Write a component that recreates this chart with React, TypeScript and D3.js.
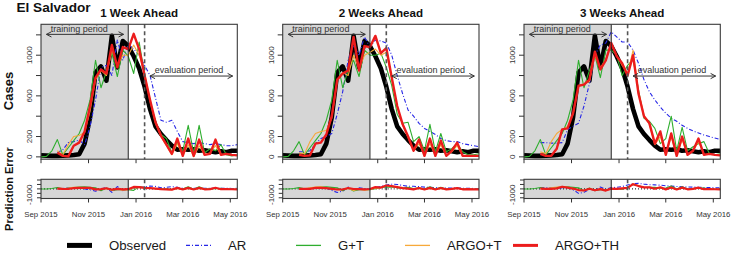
import React from "react";
import * as d3 from "d3";

// ---------- data ----------
const startDate = new Date(2015, 8, 1);
const endDate = new Date(2016, 4, 10);
const weeks: Date[] = d3.range(37).map((i) => d3.timeDay.offset(startDate, 7 * i));
const trainEnd = new Date(2015, 11, 22);
const evalStart = new Date(2016, 0, 12);

const panelTitles = ["1 Week Ahead", "2 Weeks Ahead", "3 Weeks Ahead"];

const observed = [15, 12, 10, 10, 12, 15, 18, 25, 130, 390, 830, 890, 750, 1190, 880, 1140, 1090, 990, 870, 690, 470, 300, 225, 165, 110, 70, 75, 70, 75, 60, 65, 55, 45, 55, 45, 60, 60];

const ar1 = [null, null, null, 40, 70, 140, 150, 165, 120, 300, 560, 880, 900, 800, 1150, 950, 1110, 1060, 1000, 900, 800, 580, 360, 340, 360, 250, 150, 140, 130, 140, 130, 120, 130, 120, 110, 110, 120];
const gt1 = [0, 5, 60, 170, 20, 90, 160, 230, 360, 560, 950, 680, 840, 1020, 790, 1050, 990, 820, 1130, 810, 540, 340, 220, 180, 40, 140, 60, 310, 40, 310, 40, 80, 60, 120, 20, 10, 20];
const argoT1 = [null, null, null, 60, 20, 120, 200, 210, 240, 450, 760, 850, 800, 1050, 900, 1000, 1000, 1100, 1000, 820, 560, 330, 200, 110, 20, 130, 10, 120, 0, 110, 20, 40, 110, 20, 30, 20, 15];
const argoTH1 = [null, null, null, 40, 10, 5, 110, 140, 250, 500, 780, 860, 820, 1100, 880, 1080, 1060, 1210, 1060, 800, 560, 340, 210, 120, 30, 180, 10, 180, 10, 170, 20, 30, 170, 20, 30, 20, 15];

const ar2 = [null, null, null, 50, 50, 60, 130, 180, 200, 230, 420, 640, 950, 1100, 1000, 1180, 1080, 1150, 1140, 1120, 1000, 800, 620, 460, 400, 330, 280, 250, 220, 180, 160, 150, 150, 130, 120, 110, 100];
const gt2 = [0, 5, 60, 150, 20, 90, 160, 230, 360, 560, 950, 680, 850, 950, 790, 1050, 1000, 1000, 1020, 880, 700, 420, 330, 340, 150, 200, 60, 320, 50, 230, 50, 80, 130, 50, 20, 20, 30];
const argoT2 = [null, null, null, 40, 30, 150, 230, 250, 260, 380, 750, 830, 800, 1000, 870, 1000, 1030, 1060, 1000, 1030, 760, 500, 310, 190, 60, 130, 10, 130, 10, 120, 10, 50, 110, 10, 10, 10, 10];
const argoTH2 = [null, null, null, 20, 10, 15, 130, 140, 220, 400, 760, 820, 850, 1180, 850, 1090, 1080, 1190, 1020, 1070, 780, 500, 320, 200, 60, 170, 10, 180, 10, 160, 10, 60, 140, 10, 10, 10, 10];

const ar3 = [null, null, null, 140, 140, 135, 135, 140, 270, 300, 330, 500, 720, 1000, 1100, 1120, 1230, 1180, 1130, 1130, 1050, 920, 760, 640, 560, 490, 430, 380, 350, 310, 280, 255, 235, 215, 200, 185, 170];
const gt3 = [0, 5, 60, 170, 20, 90, 160, 230, 360, 560, 950, 680, 850, 1000, 780, 1050, 1050, 1000, 800, 900, 960, 660, 380, 350, 280, 130, 180, 400, 60, 290, 60, 100, 130, 150, 30, 20, 30];
const argoT3 = [null, null, null, 50, 30, 150, 230, 270, 300, 420, 690, 720, 740, 1000, 880, 950, 1100, 1000, 900, 820, 1050, 640, 410, 320, 120, 200, 20, 200, 10, 170, 20, 60, 150, 20, 30, 20, 15];
const argoTH3 = [null, null, null, 30, 10, 10, 80, 270, 280, 430, 700, 710, 760, 1035, 860, 950, 1120, 990, 920, 800, 1000, 620, 400, 330, 130, 250, 20, 230, 10, 200, 20, 60, 180, 20, 30, 20, 15];

const arSeries = [ar1, ar2, ar3];
const gtSeries = [gt1, gt2, gt3];
const argoTSeries = [argoT1, argoT2, argoT3];
const argoTHSeries = [argoTH1, argoTH2, argoTH3];

const xTickDates = [new Date(2015, 8, 1), new Date(2015, 10, 1), new Date(2016, 0, 1), new Date(2016, 2, 1), new Date(2016, 4, 1)];
const xTickLabels = ["Sep 2015", "Nov 2015", "Jan 2016", "Mar 2016", "May 2016"];
const yTicks = [0, 200, 400, 600, 800, 1000, 1200];
const yTickLabels = [0, 200, 600, 1000];
const errTicks = [-1000, -500, 0, 500, 1000];
const errTickLabels = [-1000];

// annotation anchors (dates / values)
const trainArrow = { from: d3.timeDay.offset(startDate, 7), to: d3.timeDay.offset(startDate, 106), value: 1205 };
const trainTextAt = d3.timeDay.offset(startDate, 49);
const evalArrow = { from: d3.timeDay.offset(startDate, 140), to: d3.timeDay.offset(startDate, 246), value: 795 };
const evalTextAt = d3.timeDay.offset(startDate, 190);

const legendNames = ["Observed", "AR", "G+T", "ARGO+T", "ARGO+TH"];

// ---------- styles ----------
const FONT = "'Liberation Sans', Arial, Helvetica, sans-serif";
const COLORS = { obs: "#000000", ar: "#2727e6", gt: "#2fae2f", argoT: "#f7a93a", argoTH: "#ec1c1c" };
const PANEL_LEFT = [41, 282.7, 524];
const PANEL_W = 196.3;
const MAIN_TOP = 24.3;
const MAIN_BOTTOM = 159.2;
const ERR_TOP = 179.3;
const ERR_BOTTOM = 198.5;
const LEGEND_X = [67, 186, 296, 405, 513];
const LEGEND_Y = 245.4;

type Val = number | null;

function arrowPath(x0: number, x1: number, y: number) {
  const h = 5, w = 2.6;
  return `M${x0},${y}L${x1},${y}M${x0 + h},${y - w}L${x0},${y}L${x0 + h},${y + w}M${x1 - h},${y - w}L${x1},${y}L${x1 - h},${y + w}`;
}

function Panel({ idx }: { idx: number }) {
  const left = PANEL_LEFT[idx];
  const right = left + PANEL_W;
  const x = d3.scaleTime().domain([startDate, endDate]).range([left, right]);
  const y = d3.scaleLinear().domain([-23, 1304]).range([MAIN_BOTTOM, MAIN_TOP]);
  const ye = d3.scaleLinear().domain([-1080, 1080]).range([ERR_BOTTOM, ERR_TOP]);

  const mk = (sc: d3.ScaleLinear<number, number>) =>
    d3
      .line<Val>()
      .defined((d) => d != null)
      .x((_, i) => x(weeks[i]))
      .y((d) => sc(d as number));
  const lineMain = mk(y);
  const lineErr = mk(ye);
  const err = (s: Val[]) => s.map((v, i) => (v == null ? null : v - observed[i]));

  const models = [
    { s: arSeries[idx], c: COLORS.ar, w: 1.1, dash: "4,2,1,2", we: 1.1 },
    { s: gtSeries[idx], c: COLORS.gt, w: 1.1, dash: undefined, we: 1.1 },
    { s: argoTSeries[idx], c: COLORS.argoT, w: 1.1, dash: undefined, we: 1.1 },
    { s: argoTHSeries[idx], c: COLORS.argoTH, w: 2.4, dash: undefined, we: 2.2 },
  ];

  const xTrain = x(trainEnd);
  const xEval = x(evalStart);
  const cx = (left + right) / 2;

  return (
    <g>
      <text x={cx} y={17.3} textAnchor="middle" fontFamily={FONT} fontWeight="bold" fontSize={11.6} fill="#111">
        {panelTitles[idx]}
      </text>

      {/* main panel */}
      <rect x={left} y={MAIN_TOP} width={xTrain - left} height={MAIN_BOTTOM - MAIN_TOP} fill="#d6d6d6" />
      <path d={lineMain(observed as Val[]) || ""} fill="none" stroke={COLORS.obs} strokeWidth={4.6} strokeLinejoin="round" />
      {models.map((m, k) => (
        <path key={k} d={lineMain(m.s as Val[]) || ""} fill="none" stroke={m.c} strokeWidth={m.w} strokeDasharray={m.dash} strokeLinejoin="round" />
      ))}
      <line x1={xTrain} x2={xTrain} y1={MAIN_TOP} y2={MAIN_BOTTOM} stroke="#222" strokeWidth={1} />
      <line x1={xEval} x2={xEval} y1={MAIN_TOP} y2={MAIN_BOTTOM} stroke="#555" strokeWidth={1.6} strokeDasharray="4,3" />
      <rect x={left} y={MAIN_TOP} width={PANEL_W} height={MAIN_BOTTOM - MAIN_TOP} fill="none" stroke="#3a3a3a" strokeWidth={1.1} />

      {/* annotations */}
      <path d={arrowPath(x(trainArrow.from), x(trainArrow.to), y(trainArrow.value))} fill="none" stroke="#333" strokeWidth={1} />
      <text x={x(trainTextAt)} y={y(trainArrow.value) - 2} textAnchor="middle" fontFamily={FONT} fontSize={9} fill="#333">
        training period
      </text>
      <path d={arrowPath(x(evalArrow.from), x(evalArrow.to), y(evalArrow.value))} fill="none" stroke="#333" strokeWidth={1} />
      <text x={x(evalTextAt)} y={y(evalArrow.value) - 2.7} textAnchor="middle" fontFamily={FONT} fontSize={9} fill="#333">
        evaluation period
      </text>

      {/* main y axis */}
      {yTicks.map((t) => (
        <line key={t} x1={left - 5} x2={left} y1={y(t)} y2={y(t)} stroke="#333" strokeWidth={1} />
      ))}
      {yTickLabels.map((t) => (
        <text key={t} transform={`translate(${left - 8.7},${y(t)}) rotate(-90)`} textAnchor="middle" fontFamily={FONT} fontSize={8} fill="#333">
          {t}
        </text>
      ))}
      {/* main x ticks */}
      {xTickDates.map((d, k) => (
        <line key={k} x1={x(d)} x2={x(d)} y1={MAIN_BOTTOM} y2={MAIN_BOTTOM + 4} stroke="#333" strokeWidth={1} />
      ))}

      {/* error panel */}
      <rect x={left} y={ERR_TOP} width={xTrain - left} height={ERR_BOTTOM - ERR_TOP} fill="#d6d6d6" />
      <line x1={left} x2={right} y1={ye(0)} y2={ye(0)} stroke="#000" strokeWidth={1} strokeDasharray="1,2" />
      {models.map((m, k) => (
        <path key={k} d={lineErr(err(m.s as Val[])) || ""} fill="none" stroke={m.c} strokeWidth={m.we} strokeDasharray={m.dash} strokeLinejoin="round" />
      ))}
      <line x1={xTrain} x2={xTrain} y1={ERR_TOP} y2={ERR_BOTTOM} stroke="#222" strokeWidth={1} />
      <line x1={xEval} x2={xEval} y1={ERR_TOP} y2={ERR_BOTTOM} stroke="#555" strokeWidth={1.6} strokeDasharray="4,3" />
      <rect x={left} y={ERR_TOP} width={PANEL_W} height={ERR_BOTTOM - ERR_TOP} fill="none" stroke="#3a3a3a" strokeWidth={1.1} />
      {errTicks.map((t) => (
        <line key={t} x1={left - 4} x2={left} y1={ye(t)} y2={ye(t)} stroke="#333" strokeWidth={1} />
      ))}
      {errTickLabels.map((t) => (
        <text key={t} transform={`translate(${left - 8.7},${ye(t) - 3}) rotate(-90)`} textAnchor="middle" fontFamily={FONT} fontSize={8} fill="#333">
          {t}
        </text>
      ))}
      {xTickDates.map((d, k) => (
        <g key={k}>
          <line x1={x(d)} x2={x(d)} y1={ERR_BOTTOM} y2={ERR_BOTTOM + 4} stroke="#333" strokeWidth={1} />
          <text x={x(d)} y={217} textAnchor="middle" fontFamily={FONT} fontSize={7.8} fill="#333">
            {xTickLabels[k]}
          </text>
        </g>
      ))}
    </g>
  );
}

function Legend() {
  const styles = [
    { c: COLORS.obs, w: 5, dash: undefined },
    { c: COLORS.ar, w: 1.2, dash: "4,2,1,2" },
    { c: COLORS.gt, w: 1.3, dash: undefined },
    { c: COLORS.argoT, w: 1.3, dash: undefined },
    { c: COLORS.argoTH, w: 3, dash: undefined },
  ];
  return (
    <g>
      {legendNames.map((n, i) => (
        <g key={n}>
          <line x1={LEGEND_X[i]} x2={LEGEND_X[i] + 25} y1={LEGEND_Y} y2={LEGEND_Y} stroke={styles[i].c} strokeWidth={styles[i].w} strokeDasharray={styles[i].dash} />
          <text x={LEGEND_X[i] + 42} y={LEGEND_Y + 4.6} fontFamily={FONT} fontSize={13.2} fill="#1a1a1a">
            {n}
          </text>
        </g>
      ))}
    </g>
  );
}

export default function App() {
  return (
    <svg width={733} height={253} style={{ position: "absolute", left: 0, top: 0, background: "#fff" }}>
      <rect width={733} height={253} fill="#fff" />
      <text x={16.5} y={12.3} fontFamily={FONT} fontWeight="bold" fontSize={13.6} fill="#111">
        El Salvador
      </text>
      <text transform="translate(13.3,91) rotate(-90)" textAnchor="middle" fontFamily={FONT} fontWeight="bold" fontSize={13} fill="#111">
        Cases
      </text>
      <text transform="translate(12.5,189) rotate(-90)" textAnchor="middle" fontFamily={FONT} fontWeight="bold" fontSize={11} fill="#111">
        Prediction Error
      </text>
      {[0, 1, 2].map((i) => (
        <Panel key={i} idx={i} />
      ))}
      <Legend />
    </svg>
  );
}
